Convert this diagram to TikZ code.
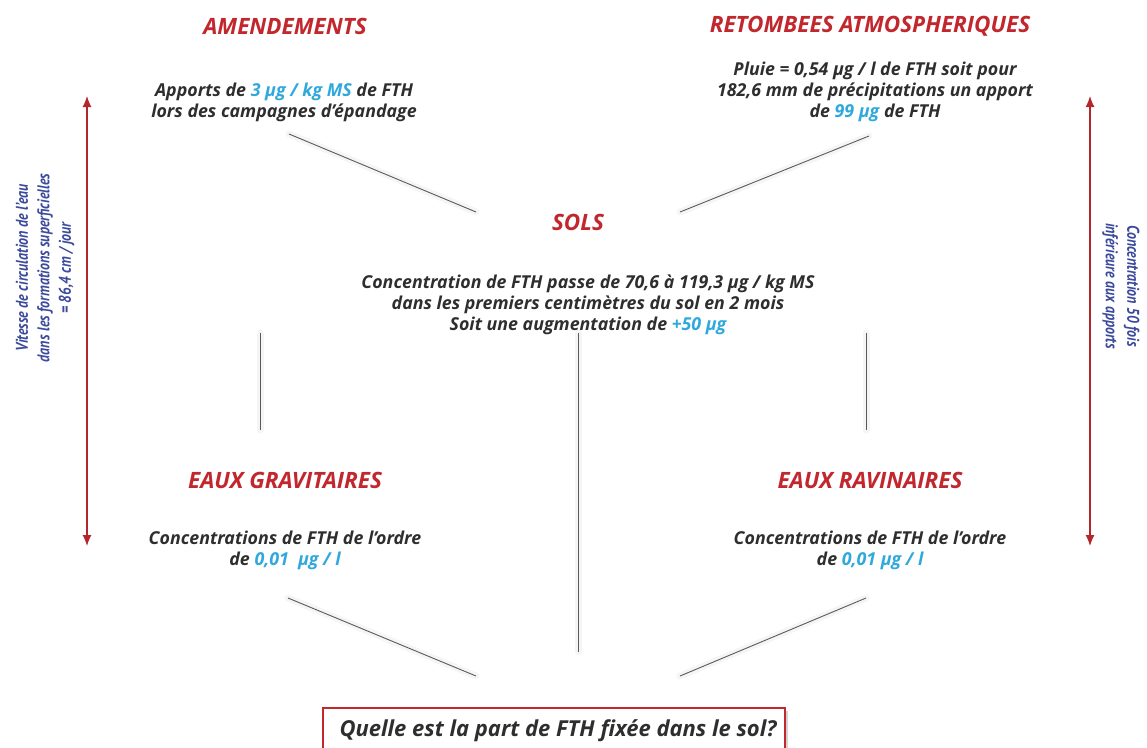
\documentclass[tikz,border=0pt]{standalone}
\usepackage{fontspec}
\usepackage{graphicx}
\setmainfont{Open Sans}
\newfontfamily\sidefont{PT Sans}
\usetikzlibrary{arrows.meta,shadows}
\definecolor{titlered}{HTML}{C1272D}
\definecolor{bodygray}{HTML}{2E2E2E}
\definecolor{numblue}{HTML}{2FA8DC}
\definecolor{sideblue}{HTML}{3B4A9C}
\definecolor{linegray}{HTML}{5A5A5A}
\definecolor{arrowred}{HTML}{B3262B}
\newcommand{\nb}[1]{\textcolor{numblue}{#1}}
\newcommand{\narrowlines}[1]{\scalebox{0.82}[1]{\begin{tabular}{@{}c@{}}#1\end{tabular}}}
\begin{document}
\begin{tikzpicture}[x=1pt,y=-1pt,
  title/.style={font=\fontsize{22.5}{26}\selectfont\bfseries\itshape, text=titlered},
  body/.style={font=\fontsize{17.8}{21}\selectfont\bfseries\itshape, text=bodygray, align=center},
  side/.style={font=\sidefont\fontsize{17}{21.5}\selectfont\bfseries\itshape, text=sideblue, inner sep=0pt},
  link/.style={draw=linegray, line width=0.9pt},
  linkshadow/.style={draw=black, opacity=0.04, line width=7pt, line cap=round},
  twoway/.style={draw=arrowred, line width=1.2pt, {Latex[length=11pt,width=9pt]}-{Latex[length=11pt,width=9pt]}},
  question/.style={draw=titlered, line width=1.6pt, fill=white, drop shadow={opacity=0.35, shadow xshift=3pt, shadow yshift=-3pt},
    minimum width=462pt, minimum height=56pt, anchor=north west, inner sep=0pt}
]
\useasboundingbox (0,0) rectangle (1147,747);
\clip (0,0) rectangle (1147,747);

% titles
\node[title] (amend) at (285,26) {AMENDEMENTS};
\node[title] (retomb) at (870,26) {RETOMBEES ATMOSPHERIQUES};
\node[title] (sols) at (578,222) {SOLS};
\node[title] (grav) at (285,480) {EAUX GRAVITAIRES};
\node[title] (ravin) at (870,480) {EAUX RAVINAIRES};

% body texts
\node[body] (amendtxt) at (284,102) {Apports de \nb{3 µg / kg MS} de FTH\\lors des campagnes d’épandage};
\node[body] (retombtxt) at (875,92) {Pluie = 0,54 µg / l de FTH soit pour\\182,6 mm de précipitations un apport\\de \nb{99 µg} de FTH};
\node[body] (solstxt) at (588,305) {Concentration de FTH passe de 70,6 à 119,3 µg / kg MS\\dans les premiers centimètres du sol en 2 mois\\Soit une augmentation de \nb{+50 µg}};
\node[body] (gravtxt) at (285,550) {Concentrations de FTH de l’ordre\\de \nb{0,01\ \ µg / l}};
\node[body] (ravintxt) at (870,550) {Concentrations de FTH de l’ordre\\de \nb{0,01 µg / l}};

% connector end points
\coordinate (a1) at (289,134); \coordinate (a2) at (476,212);
\coordinate (r1) at (869,136); \coordinate (r2) at (680,212);
\coordinate (s1) at (260,333); \coordinate (s2) at (260,430);
\coordinate (m1) at (578,333); \coordinate (m2) at (578,652);
\coordinate (t1) at (866,333); \coordinate (t2) at (866,430);
\coordinate (g1) at (288,598); \coordinate (g2) at (476,676);
\coordinate (v1) at (866,598); \coordinate (v2) at (680,676);

\begin{scope}[shift={(1,4)}]
\foreach \p/\q in {a1/a2, r1/r2, s1/s2, m1/m2, t1/t2, g1/g2, v1/v2}
  \draw[linkshadow] (\p) -- (\q);
\end{scope}
\draw[link] (a1) -- (a2);
\draw[link] (r1) -- (r2);
\draw[link] (s1) -- (s2);
\draw[link] (m1) -- (m2);
\draw[link] (t1) -- (t2);
\draw[link] (g1) -- (g2);
\draw[link] (v1) -- (v2);

% side arrows
\coordinate (la1) at (87,96); \coordinate (la2) at (87,546);
\coordinate (ra1) at (1090,96); \coordinate (ra2) at (1090,546);
\draw[twoway] (la1) -- (la2);
\draw[twoway] (ra1) -- (ra2);
\node[side, rotate=90] (lefttxt) at (45,268) {\narrowlines{Vitesse de circulation de l’eau\\dans les formations superficielles\\= 86,4 cm / jour}};
\node[side, rotate=-90] (righttxt) at (1121,286) {\narrowlines{Concentration 50 fois\\inférieure aux apports}};

% question box
\node[question] (qbox) at (322,707) {};
\node[font=\fontsize{22}{26}\selectfont\bfseries\itshape, text=bodygray] (qtxt) at (558,731) {Quelle est la part de FTH fixée dans le sol?};
\end{tikzpicture}
\end{document}
